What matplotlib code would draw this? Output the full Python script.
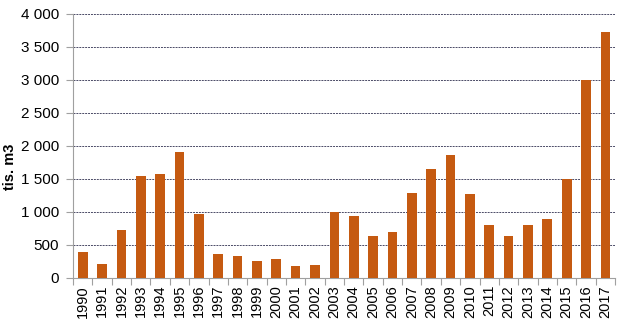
import matplotlib
matplotlib.use("Agg")
import matplotlib.pyplot as plt
from matplotlib.ticker import FixedLocator, FuncFormatter

years = [str(y) for y in range(1990, 2018)]
values = [390, 210, 720, 1550, 1580, 1905, 970, 368, 328, 258, 293, 177, 192,
          1000, 934, 631, 702, 1288, 1652, 1859, 1278, 808, 631, 808, 894,
          1495, 3000, 3730]
y_ticks = [0, 500, 1000, 1500, 2000, 2500, 3000, 3500, 4000]

plt.rcParams['font.family'] = ['Liberation Sans', 'DejaVu Sans']

fig = plt.figure(figsize=(6.27, 3.24), dpi=100)
ax = fig.add_axes([0.1164, 0.142, 0.981 - 0.1164, 0.957 - 0.142])

x = list(range(len(years)))
ax.bar(x, values, width=0.5, color='#C55A11', zorder=3)

ax.set_xlim(-0.5, len(years) - 0.5)
ax.set_ylim(0, 4000)

ax.yaxis.set_major_locator(FixedLocator(y_ticks))
ax.yaxis.set_major_formatter(FuncFormatter(lambda v, p: f"{int(v):,}".replace(",", " ")))
ax.grid(axis='y', color='#4a4a66', linestyle=(0, (2, 1)), linewidth=0.7, zorder=1)

ax.set_xticks(x)
ax.set_xticklabels(years, rotation=90)
ax.set_xticks([i + 0.5 for i in range(-1, len(years))], minor=True)
ax.tick_params(axis='x', which='major', length=0, pad=5, labelsize=10.5)
ax.tick_params(axis='x', which='minor', length=5, color='#a0a0a0', width=0.8)
ax.tick_params(axis='y', length=5, color='#a0a0a0', width=0.8, labelsize=11, pad=5)

for side in ('top', 'right'):
    ax.spines[side].set_visible(False)
for side in ('left', 'bottom'):
    ax.spines[side].set_color('#a0a0a0')
    ax.spines[side].set_linewidth(0.8)

ax.set_ylabel('tis. m3', fontweight='bold', fontsize=10.5)
ax.yaxis.set_label_coords(-0.104, 0.42)

fig.savefig('out.png', dpi=100)
